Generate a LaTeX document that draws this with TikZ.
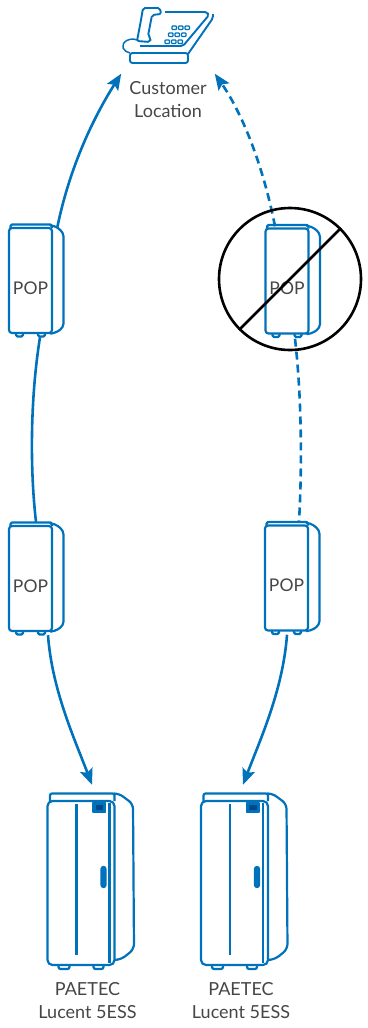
\documentclass[tikz,border=0pt]{standalone}
\usepackage{fontspec}
\setmainfont{Lato}
\usetikzlibrary{arrows.meta,positioning,calc}
\definecolor{netblue}{RGB}{0,114,188}
\definecolor{netdark}{RGB}{0,72,140}
\definecolor{labelgray}{RGB}{70,70,70}
\tikzset{
  devline/.style={netblue, line width=2.2pt, line join=round},
  link/.style={netblue, line width=2.6pt},
  linkdash/.style={link, dash pattern=on 8pt off 5pt},
  tip/.style={-{Stealth[length=16pt,width=13pt,inset=3pt]}},
  popnode/.style={inner sep=0pt, minimum width=43pt, minimum height=105pt, text height=27pt, text depth=0pt, font=\fontsize{17.5}{20}\selectfont, text=labelgray},
  essnode/.style={inner sep=0pt, minimum width=67pt, minimum height=164pt},
  captxt/.style={align=center, inner sep=0pt, font=\fontsize{18}{23}\selectfont, text=labelgray},
  bancircle/.style={circle, draw=black, line width=2.6pt, minimum size=142pt, inner sep=0pt},
  popcab/.pic={
    \draw[devline, rounded corners=3pt] (-21.5,-52.5) rectangle (21.5,52.5);
    \draw[devline, rounded corners=1.5pt] (-20,-52.5) -- (-20,-56) -- (21.5,-56) -- (21.5,-52.5);
    \draw[devline, rounded corners=4pt] (21.5,-55) -- (24,-55) -- (33,-48) -- (33,47) -- (24,53) -- (21.5,53);
    \draw[devline, rounded corners=1.5pt] (-14.5,52.5) -- (-14.5,56) -- (-7.5,56) -- (-7.5,52.5);
    \draw[devline, rounded corners=1.5pt] (7.5,52.5) -- (7.5,56) -- (14.5,56) -- (14.5,52.5);
  },
  esscab/.pic={
    \draw[devline, rounded corners=5pt] (-33.5,-82) rectangle (33.5,82);
    \draw[devline, rounded corners=2pt] (-31,-82) -- (-31,-89.5) -- (33.5,-89.5) -- (33.5,-82);
    \draw[devline, rounded corners=5pt] (33.5,-89.5) -- (38,-89.5) -- (52,-79) -- (53,66) -- (41,76) -- (33.5,77);
    \draw[devline] (28.5,-80) -- (28.5,80);
    \draw[devline] (-4.5,-79) -- (-4.5,72);
    \draw[devline, line width=1.4pt, fill=netblue] (12,-80) rectangle (24.5,-71);
    \fill[netdark] (14.5,-78) rectangle (22,-73.5);
    \draw[devline, fill=netblue, rounded corners=2pt] (20.5,-16) rectangle (24.5,4);
    \draw[devline, rounded corners=2pt] (-22.5,82) -- (-22.5,86) -- (-11.5,86) -- (-11.5,82);
    \draw[devline, rounded corners=2pt] (12.5,82) -- (12.5,86) -- (22.5,86) -- (22.5,82);
  },
  deskphone/.pic={
    \draw[devline, line width=1.9pt, rounded corners=2.5pt] (-40,19) rectangle (18,29);
    \draw[devline, line width=1.9pt, rounded corners=2pt] (-5,-22) -- (37,-22) -- (39,-19) -- (13,12) -- (-30,12);
    \draw[devline, line width=1.9pt, rounded corners=2pt] (18,20) -- (43,-16) -- (43,-20);
    \draw[devline, line width=1.9pt, rounded corners=2pt] (-27,-26) -- (-10,-26) -- (-9,-20) -- (-18,-19) -- (-22,2) -- (-19,4) -- (-20,8) -- (-33,7) -- (-29,-14) -- cycle;
    \draw[devline, line width=1.5pt] (-33,6) .. controls (-40,3) and (-49,8) .. (-47,14) .. controls (-46,17) and (-43,18) .. (-40,19);
    \foreach \r in {0,1,2}
      \foreach \c in {0,1,2}
        \draw[devline, line width=1.3pt, rounded corners=0.8pt] ({2-3.5*\r+6.5*\c},{-8+7*\r}) rectangle ++(4.5,3.5);
  }
}
\begin{document}
\begin{tikzpicture}[x=1pt,y=-1pt]
  \useasboundingbox (0,0) rectangle (367,1028);
  \node[minimum width=92pt, minimum height=60pt] (phone) at (170,34) {};
  \pic at (phone) {deskphone};
  \node[captxt, inner xsep=8pt, inner ysep=8pt] (cust) at (168,100) {Customer\\Location};

  \node[popnode] (popA) at (30.5,280.5) {POP};
  \pic at (popA) {popcab};
  \node[popnode] (popB) at (30.5,578.5) {POP};
  \pic at (popB) {popcab};
  \node[popnode] (popC) at (287,281) {POP};
  \pic at (popC) {popcab};
  \node[popnode] (popD) at (286.5,578) {POP};
  \pic at (popD) {popcab};

  \node[essnode] (swA) at (81,883) {};
  \pic at (swA) {esscab};
  \node[essnode] (swB) at (234.5,883) {};
  \pic at (swB) {esscab};
  \node[captxt, below=17pt of swA, xshift=6.5pt] (capA) {PAETEC\\Lucent 5ESS};
  \node[captxt, below=17pt of swB, xshift=6.5pt] (capB) {PAETEC\\Lucent 5ESS};

  \draw[link, tip] ($(popA.north east)+(5,0)$) .. controls (70,165) and (95,115) .. (cust.north west);
  \draw[link] ($(popA.south)+(9.5,4)$) .. controls (30,400) and (30,470) .. ($(popB.north)+(5.5,-4)$);
  \draw[link, tip] ($(popB.south)+(17.5,4)$) .. controls (52,690) and (75,740) .. ($(swA.north)+(11,-16)$);

  \draw[linkdash, tip] ($(popC.north)+(-12,-2)$) .. controls (262,160) and (240,110) .. (cust.north east);
  \draw[linkdash] ($(popC.south)+(8,5)$) .. controls (302,400) and (302,470) .. ($(popD.north)+(12.5,-4)$);
  \draw[link, tip] ($(popD.south)+(0.5,4)$) .. controls (283,690) and (260,740) .. ($(swB.north)+(8.5,-16)$);

  \node[bancircle] (ban) at (290,279) {};
  \draw[black, line width=2.6pt] (ban.225) -- (ban.45);
\end{tikzpicture}
\end{document}
